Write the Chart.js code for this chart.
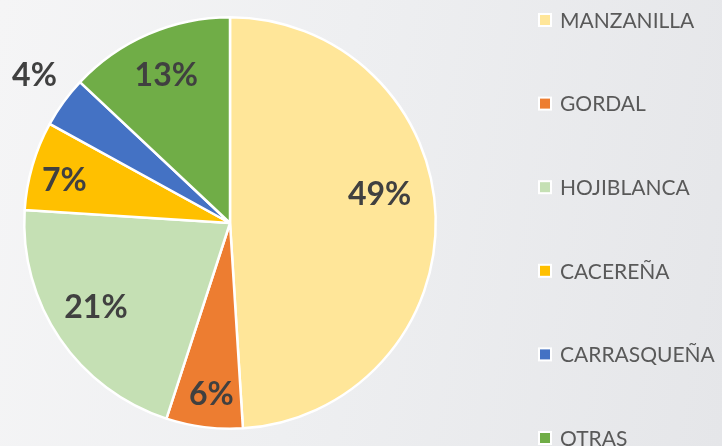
<!DOCTYPE html>
<html>
<head>
<meta charset="utf-8">
<script src="https://cdn.jsdelivr.net/npm/chart.js@4"></script>
<style>
  html, body { margin: 0; padding: 0; }
  body {
    width: 722px; height: 446px; overflow: hidden;
    background: linear-gradient(100deg, #f5f5f6 0%, #eeeff1 45%, #e5e6e9 100%);
  }
  #wrap { width: 722px; height: 446px; position: relative; }
</style>
</head>
<body>
<div id="wrap"><canvas id="chart"></canvas></div>
<script>
// Datos del gráfico
const variedades = ['MANZANILLA', 'GORDAL', 'HOJIBLANCA', 'CACEREÑA', 'CARRASQUEÑA', 'OTRAS'];
const porcentajes = [49, 6, 21, 7, 4, 13];
const colores = ['#FFE699', '#ED7D31', '#C5E0B4', '#FFC000', '#4472C4', '#70AD47'];

// Ajuste de la posición de las etiquetas (fracción del radio, giro en grados)
const ajusteEtiquetas = [
    { r: 0.74, da: -9 },
    { r: 0.84, da: -1 },
    { r: 0.77, da: 2 },
    { r: 0.83, da: -2 },
    { r: 1.19, da: 1 },
    { r: 0.78, da: 0 }
];

// Etiquetas de porcentaje sobre cada sector
const etiquetasPlugin = {
    id: 'etiquetas',
    afterDatasetsDraw(chart) {
        const ctx = chart.ctx;
        const meta = chart.getDatasetMeta(0);
        ctx.save();
        ctx.font = 'bold 32px Lato';
        ctx.fillStyle = '#404040';
        ctx.textAlign = 'center';
        ctx.textBaseline = 'middle';
        meta.data.forEach((arc, i) => {
            const a = (arc.startAngle + arc.endAngle) / 2 + ajusteEtiquetas[i].da * Math.PI / 180;
            const r = arc.outerRadius * ajusteEtiquetas[i].r;
            ctx.fillText(chart.data.datasets[0].data[i] + '%', arc.x + Math.cos(a) * r, arc.y + Math.sin(a) * r);
        });
        ctx.restore();
    }
};

// Leyenda a la derecha
const leyendaPlugin = {
    id: 'leyenda',
    afterDraw(chart) {
        const ctx = chart.ctx;
        const ds = chart.data.datasets[0];
        ctx.save();
        ctx.font = '21px Lato';
        ctx.textBaseline = 'middle';
        chart.data.labels.forEach((label, i) => {
            const y = 20 + i * 83.6;
            ctx.fillStyle = '#ffffff';
            ctx.fillRect(538, y - 7, 14, 14);
            ctx.fillStyle = ds.backgroundColor[i];
            ctx.fillRect(540, y - 5, 10, 10);
            ctx.fillStyle = '#595959';
            ctx.fillText(label, 560, y + 1);
        });
        ctx.restore();
    }
};

new Chart(document.getElementById('chart'), {
    type: 'pie',
    data: {
        labels: variedades,
        datasets: [{
            data: porcentajes,
            backgroundColor: colores,
            borderColor: '#ffffff',
            borderWidth: 2.5
        }]
    },
    options: {
        responsive: true,
        maintainAspectRatio: false,
        animation: false,
        layout: { padding: { left: 23, top: 16, bottom: 16, right: 285 } },
        plugins: {
            legend: { display: false },
            tooltip: { enabled: false }
        }
    },
    plugins: [etiquetasPlugin, leyendaPlugin]
});
</script>
</body>
</html>
